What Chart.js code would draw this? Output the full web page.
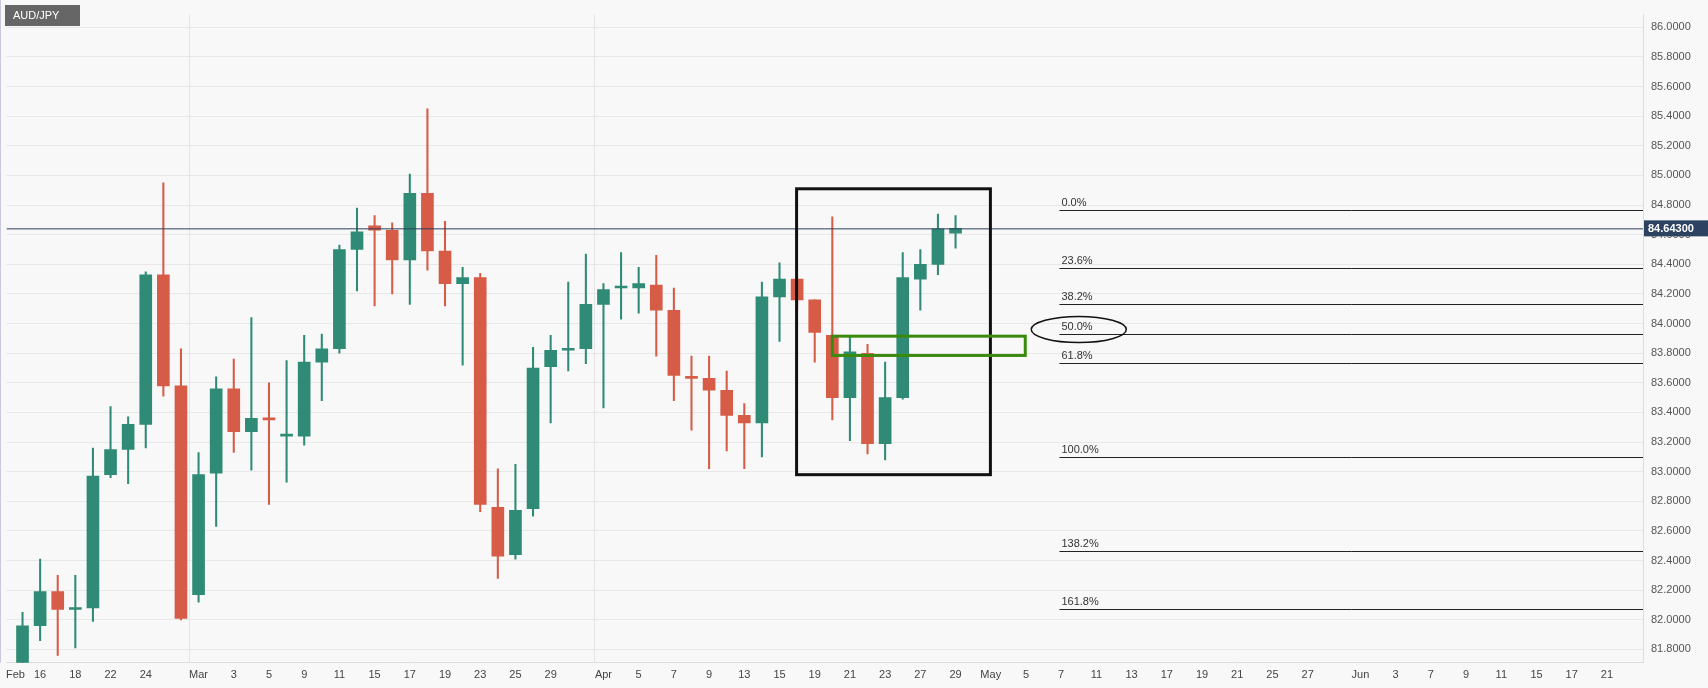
<!DOCTYPE html>
<html><head><meta charset="utf-8">
<script src="https://cdn.jsdelivr.net/npm/chart.js@4"></script>
<style>html,body{margin:0;padding:0;background:#f8f8f8;}#wrap{width:1708px;height:688px;position:relative;}</style>
</head><body><div id="wrap"><canvas id="c" width="1708" height="688"></canvas></div>
<script>
const dayLabels = ["Feb","","16","","18","","22","","24","","","Mar","","3","","5","","9","","11","","15","","17","","19","","23","","25","","29","","","Apr","","5","","7","","9","","13","","15","","19","","21","","23","","27","","29","","May","","5","","7","","11","","13","","17","","19","","21","","25","","27","","","Jun","","3","","7","","9","","11","","15","","17","","21",""];
const priceTicks = [81.8,82.0,82.2,82.4,82.6,82.8,83.0,83.2,83.4,83.6,83.8,84.0,84.2,84.4,84.6,84.8,85.0,85.2,85.4,85.6,85.8,86.0];
const openV  = [81.71,81.96,82.19,82.07,82.08,82.98,83.15,83.32,84.33,83.58,82.17,82.99,83.56,83.27,83.36,83.24,83.24,83.74,83.83,84.50,84.66,84.63,84.43,84.88,84.49,84.27,84.31,82.76,82.44,82.75,83.71,83.82,83.83,84.13,84.24,84.24,84.26,84.09,83.64,83.63,83.55,83.38,83.33,84.18,84.30,84.16,83.92,83.50,83.80,83.19,83.50,84.30,84.40,84.61];
const highV  = [82.05,82.41,82.30,82.30,83.16,83.44,83.37,84.35,84.95,83.83,83.13,83.64,83.76,84.04,83.60,83.75,83.92,83.93,84.53,84.78,84.73,84.68,85.01,85.45,84.69,84.38,84.34,83.02,83.05,83.84,83.92,84.28,84.47,84.27,84.48,84.38,84.46,84.24,83.78,83.78,83.68,83.46,84.28,84.41,84.31,84.16,84.72,83.91,83.86,83.74,84.48,84.50,84.74,84.73];
const lowV   = [81.70,81.86,81.76,81.81,81.99,82.96,82.92,83.16,83.51,82.00,82.12,82.63,83.13,83.01,82.78,82.93,83.18,83.48,83.80,84.22,84.12,84.20,84.13,84.36,84.12,83.72,82.73,82.28,82.41,82.70,83.33,83.68,83.73,83.43,84.03,84.07,83.78,83.48,83.28,83.02,83.14,83.02,83.10,83.88,84.10,83.74,83.35,83.21,83.12,83.08,83.49,84.09,84.33,84.51];
const closeV = [81.96,82.19,82.07,82.08,82.97,83.15,83.32,84.33,83.58,82.01,82.98,83.56,83.27,83.36,83.35,83.245,83.74,83.83,84.50,84.62,84.63,84.43,84.88,84.49,84.27,84.31,82.78,82.43,82.74,83.70,83.82,83.83,84.13,84.23,84.25,84.27,84.09,83.65,83.63,83.55,83.38,83.33,84.18,84.30,84.16,83.94,83.50,83.81,83.19,83.50,84.31,84.40,84.64,84.643];
const firstIndex = 1;
const lastPrice = 84.643;
const fibNames = ["0.0%","23.6%","38.2%","50.0%","61.8%","100.0%","138.2%","161.8%"];
const fibLevels = [84.766,84.373,84.130,83.933,83.736,83.100,82.464,82.071];
const fibStart = 59.9;
const boxRect = [44.97, 84.91, 55.98, 82.98];
const greenRect = [47.0, 83.915, 57.96, 83.785];
const ellipse = [61.0, 83.96, 2.7, 13];

const UP='#2f8b75', DN='#d65c48';
const cols = openV.map((o,i)=> closeV[i]>=o ? UP : DN);
const wicks = lowV.map((l,i)=>({x:i+firstIndex, y:[l,highV[i]]}));
const bodies = openV.map((o,i)=>({x:i+firstIndex, y:[o,closeV[i]]}));

const overlay = {
  id:'overlay',
  afterDatasetsDraw(chart){
    const {ctx, scales:{x,y}, chartArea:a} = chart;
    ctx.save();
    const ly = y.getPixelForValue(lastPrice);
    ctx.strokeStyle='#2c3e5c'; ctx.lineWidth=1;
    ctx.beginPath(); ctx.moveTo(a.left,ly+0.5); ctx.lineTo(a.right,ly+0.5); ctx.stroke();
    ctx.strokeStyle='#222'; ctx.fillStyle='#333'; ctx.font='11px Arial, "Liberation Sans"';
    ctx.textBaseline='bottom';
    fibLevels.forEach((v,i)=>{
      const py=Math.round(y.getPixelForValue(v))+0.5, px=x.getPixelForValue(fibStart);
      ctx.beginPath(); ctx.moveTo(px,py); ctx.lineTo(a.right,py); ctx.stroke();
      ctx.fillText(fibNames[i], px+2, py-2);
    });
    ctx.strokeStyle='#111'; ctx.lineWidth=3;
    let x1=x.getPixelForValue(boxRect[0]), y1=y.getPixelForValue(boxRect[1]), x2=x.getPixelForValue(boxRect[2]), y2=y.getPixelForValue(boxRect[3]);
    ctx.strokeRect(x1,y1,x2-x1,y2-y1);
    ctx.strokeStyle='#3a8a0e'; ctx.lineWidth=3;
    x1=x.getPixelForValue(greenRect[0]); y1=y.getPixelForValue(greenRect[1]); x2=x.getPixelForValue(greenRect[2]); y2=y.getPixelForValue(greenRect[3]);
    ctx.strokeRect(x1,y1,x2-x1,y2-y1);
    ctx.strokeStyle='#111'; ctx.lineWidth=1.5;
    const ex=x.getPixelForValue(ellipse[0]), ey=y.getPixelForValue(ellipse[1]);
    const rx=x.getPixelForValue(ellipse[0]+ellipse[2])-ex;
    ctx.beginPath(); ctx.ellipse(ex,ey,rx,ellipse[3],0,0,Math.PI*2); ctx.stroke();
    ctx.fillStyle='#2c4260'; ctx.fillRect(a.right+1, ly-8, 64, 16);
    ctx.fillStyle='#fff'; ctx.font='bold 11px Arial, "Liberation Sans"'; ctx.textBaseline='middle';
    ctx.fillText(lastPrice.toFixed(5), a.right+5, ly+0.5);
    ctx.fillStyle='#666'; ctx.fillRect(5,5,75,21);
    ctx.fillStyle='#fff'; ctx.font='11px Arial, "Liberation Sans"';
    ctx.fillText('AUD/JPY', 13, 16);
    ctx.strokeStyle='#c8c8e0'; ctx.lineWidth=1;
    ctx.beginPath(); ctx.moveTo(0.5,0); ctx.lineTo(0.5,a.bottom); ctx.stroke();
    ctx.restore();
  }
};

new Chart(document.getElementById('c'), {
  type:'bar',
  data:{datasets:[
    {data:wicks, backgroundColor:cols, barThickness:1.4, grouped:false, order:2},
    {data:bodies, backgroundColor:cols, barThickness:12, grouped:false, minBarLength:2, order:1}
  ]},
  options:{
    responsive:false, animation:false, devicePixelRatio:1,
    layout:{padding:0},
    plugins:{legend:{display:false}, tooltip:{enabled:false}},
    scales:{
      x:{type:'linear', min:0.1, max:93.05, offset:false,
        grid:{color:(c)=>{const v=c.tick&&c.tick.value; return [11,34].includes(v)?'#e4e4e4':'rgba(0,0,0,0)';}, drawTicks:false},
        border:{display:true,color:'#ddd'},
        afterBuildTicks:(s)=>{const t=[{value:0.6}]; for(let i=1;i<dayLabels.length;i++) t.push({value:i}); s.ticks=t;},
        ticks:{autoSkip:false, maxRotation:0, padding:6, color:'#444', font:{size:11, family:'Arial, "Liberation Sans"'},
          callback:(v)=> v<1 ? dayLabels[0] : (dayLabels[v]||'')}
      },
      y:{position:'right', min:81.71, max:86.086,
        grid:{color:'#e8e8e8', drawTicks:false},
        border:{color:'#ddd'},
        afterFit:(s)=>{s.width=65;},
        afterBuildTicks:(s)=>{s.ticks=priceTicks.map(v=>({value:v}));},
        ticks:{padding:8, color:'#555', font:{size:11, family:'Arial, "Liberation Sans"'},
          callback:(v)=>Number(v).toFixed(4)}
      }
    }
  },
  plugins:[overlay]
});
</script></body></html>
